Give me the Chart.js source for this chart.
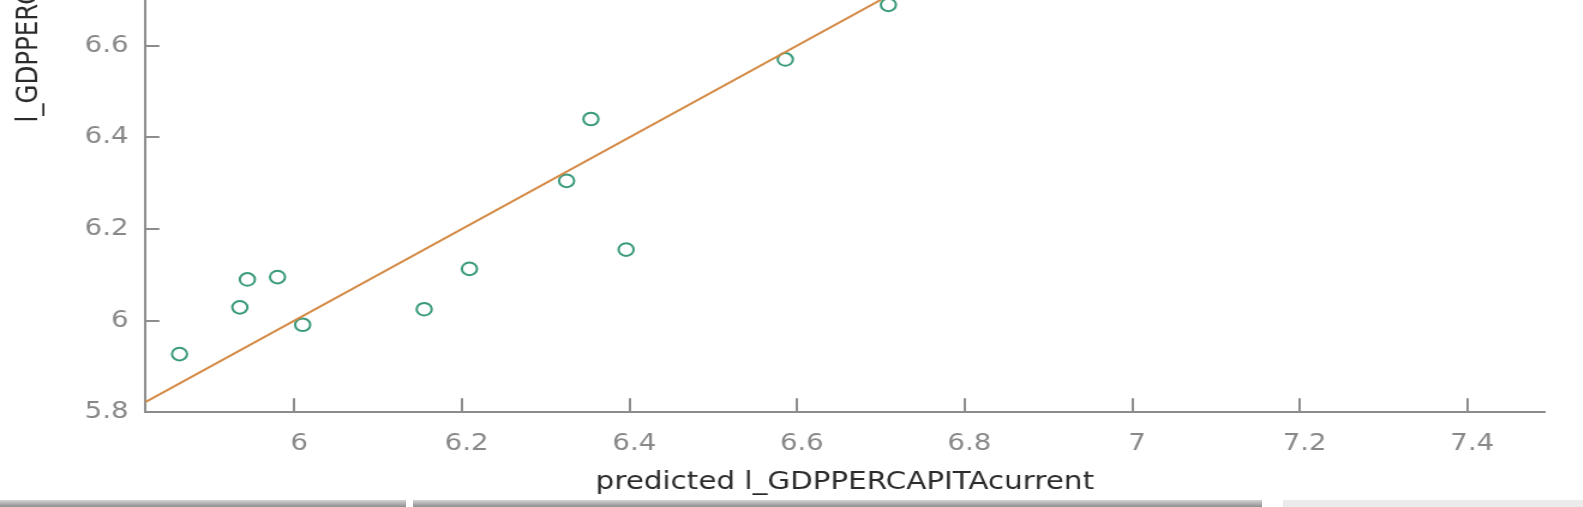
<!DOCTYPE html>
<html>
<head>
<meta charset="utf-8">
<script src="https://cdn.jsdelivr.net/npm/chart.js@4.4.0/dist/chart.umd.min.js"></script>
<style>
  html, body { margin: 0; padding: 0; background: #fff; overflow: hidden; }
  body { width: 1583px; height: 507px; position: relative; }
  /* the source screenshot is stretched horizontally, so the canvas is too */
  #wrap { position: absolute; left: 0; top: -470px; width: 1319px; height: 977px;
          transform: scaleX(1.2); transform-origin: 0 0; }
  .bar { position: absolute; top: 500px; height: 7px; }
  .dark { background: linear-gradient(#d4d4d4, #8e8e8e); }
  .light { background: #ebebeb; }
</style>
</head>
<body>
<div id="wrap"><canvas id="chart" width="1319" height="977"></canvas></div>
<div class="bar dark" style="left:0;width:406px"></div>
<div class="bar dark" style="left:413px;width:849px"></div>
<div class="bar light" style="left:1283px;width:300px"></div>
<script>
const predicted = [5.863, 5.935, 5.944, 5.980, 6.010, 6.155, 6.209, 6.325, 6.354, 6.396, 6.586, 6.709];
const actual    = [5.927, 6.029, 6.090, 6.095, 5.991, 6.025, 6.113, 6.305, 6.440, 6.155, 6.570, 6.689];

// fitted line (actual = predicted)
const fitX = [5.8222, 7.4919];
const fitY = [5.8222, 7.4919];

const xTicks = [6, 6.2, 6.4, 6.6, 6.8, 7, 7.2, 7.4];
const yTicks = [5.8, 6, 6.2, 6.4, 6.6, 6.8, 7, 7.2, 7.4, 7.6];

const axisColor = '#8c8c8c';

// tick marks point into the plot
const innerTicks = {
  id: 'innerTicks',
  afterDraw(chart) {
    const ctx = chart.ctx;
    const { x, y } = chart.scales;
    const area = chart.chartArea;
    ctx.save();
    ctx.strokeStyle = axisColor;
    ctx.lineWidth = 2;
    ctx.beginPath();
    xTicks.forEach(v => {
      const px = Math.round(x.getPixelForValue(v));
      ctx.moveTo(px, area.bottom);
      ctx.lineTo(px, area.bottom - 14);
    });
    yTicks.forEach(v => {
      const py = Math.round(y.getPixelForValue(v));
      ctx.moveTo(area.left, py);
      ctx.lineTo(area.left + 11.7, py);
    });
    ctx.stroke();
    ctx.restore();
  }
};

const ctx = document.getElementById('chart').getContext('2d');
new Chart(ctx, {
  type: 'scatter',
  data: {
    datasets: [
      {
        type: 'line',
        data: fitX.map((v, i) => ({ x: v, y: fitY[i] })),
        borderColor: '#d48a45',
        borderWidth: 2,
        pointRadius: 0,
        fill: false
      },
      {
        data: predicted.map((v, i) => ({ x: v, y: actual[i] })),
        borderColor: '#3a9a7c',
        backgroundColor: 'rgba(0,0,0,0)',
        borderWidth: 2,
        pointRadius: 6.3,
        pointHoverRadius: 6.3
      }
    ]
  },
  options: {
    responsive: false,
    animation: false,
    events: [],
    layout: { padding: { top: 11.5, right: 32, left: 0, bottom: 0 } },
    plugins: { legend: { display: false }, tooltip: { enabled: false } },
    scales: {
      x: {
        type: 'linear',
        min: 5.8222,
        max: 7.4919,
        grid: { display: false, drawTicks: false },
        border: { display: true, color: axisColor, width: 2 },
        afterBuildTicks: s => { s.ticks = xTicks.map(v => ({ value: v })); },
        afterFit: s => { s.height = 94.7; s.paddingLeft = 0; s.paddingRight = 0; },
        ticks: {
          color: '#888888',
          font: { family: 'DejaVu Sans', size: 23 },
          padding: 18,
          labelOffset: 4,
          maxRotation: 0,
          autoSkip: false,
          callback: v => String(v)
        },
        title: {
          display: true,
          text: 'predicted l_GDPPERCAPITAcurrent',
          color: '#2b2b2b',
          font: { family: 'DejaVu Sans', size: 24.5 },
          padding: { top: 0, bottom: 10 }
        }
      },
      y: {
        type: 'linear',
        min: 5.8,
        max: 7.7,
        grid: { display: false, drawTicks: false },
        border: { display: true, color: axisColor, width: 2 },
        afterBuildTicks: s => { s.ticks = yTicks.map(v => ({ value: v })); },
        afterFit: s => { s.width = 121.1; s.paddingTop = 0; s.paddingBottom = 0; },
        ticks: {
          color: '#888888',
          font: { family: 'DejaVu Sans', size: 23 },
          padding: 14,
          autoSkip: false,
          callback: v => String(v)
        },
        title: {
          display: true,
          text: 'l_GDPPERCAPITAcurrent',
          color: '#2b2b2b',
          font: { family: 'DejaVu Sans', size: 24.5 },
          padding: { top: 10, bottom: 0 }
        }
      }
    }
  },
  plugins: [innerTicks]
});
</script>
</body>
</html>
